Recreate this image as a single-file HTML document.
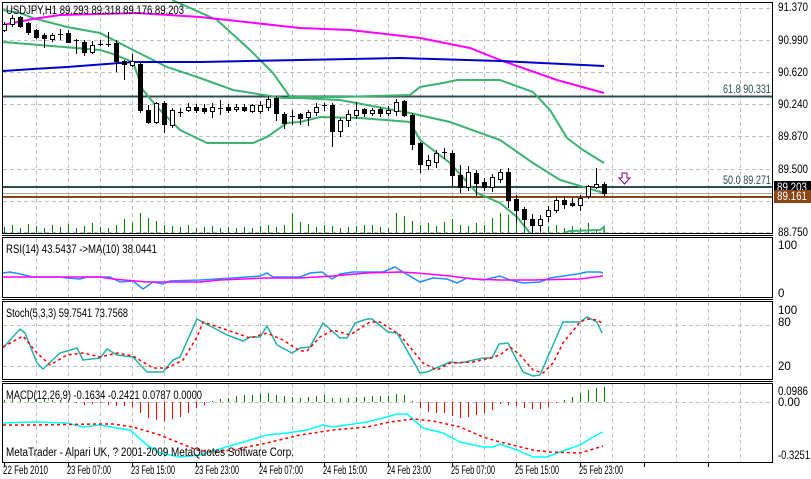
<!DOCTYPE html>
<html><head><meta charset="utf-8"><style>
html,body{margin:0;padding:0;background:#fff;}
svg{display:block;font-family:"Liberation Sans",sans-serif;font-size:11.5px;}
</style></head><body>
<svg id="s" width="811" height="479" xmlns="http://www.w3.org/2000/svg" shape-rendering="crispEdges">
<rect width="811" height="479" fill="#fff"/>
<g id="grid" stroke="#c0c0c0" stroke-dasharray="4,3" stroke-width="1"></g>
<g id="draw"></g>
<g fill="none" stroke="#000" stroke-width="1">
<rect x="2.5" y="2.5" width="770" height="231"/>
<line x1="2" y1="235.5" x2="773" y2="235.5"/>
<rect x="2.5" y="237.5" width="770" height="60"/>
<line x1="2" y1="299.5" x2="773" y2="299.5"/>
<rect x="2.5" y="301.5" width="770" height="78"/>
<line x1="2" y1="381.5" x2="773" y2="381.5"/>
<rect x="2.5" y="383.5" width="770" height="79"/>
</g>
<g id="ticks" stroke="#000"></g>
<g fill="#000">
<text x="778" y="11" textLength="30" lengthAdjust="spacingAndGlyphs">91.370</text>
<text x="778" y="44" textLength="30" lengthAdjust="spacingAndGlyphs">90.990</text>
<text x="778" y="76" textLength="30" lengthAdjust="spacingAndGlyphs">90.620</text>
<text x="778" y="108" textLength="30" lengthAdjust="spacingAndGlyphs">90.240</text>
<text x="778" y="140" textLength="30" lengthAdjust="spacingAndGlyphs">89.870</text>
<text x="778" y="173" textLength="30" lengthAdjust="spacingAndGlyphs">89.500</text>
<text x="778" y="236" textLength="30" lengthAdjust="spacingAndGlyphs">88.750</text>
<rect x="774" y="181" width="37" height="12" fill="#000"/>
<text x="777" y="191" fill="#fff" textLength="30" lengthAdjust="spacingAndGlyphs">89.203</text>
<rect x="774" y="190" width="37" height="13" fill="#8b4513"/>
<text x="777" y="200" fill="#fff" textLength="30" lengthAdjust="spacingAndGlyphs">89.161</text>
<text x="778" y="249">100</text>
<text x="778" y="297">0</text>
<text x="778" y="314">100</text>
<text x="778" y="326">80</text>
<text x="778" y="370">20</text>
<text x="778" y="395" textLength="30" lengthAdjust="spacingAndGlyphs">0.0986</text>
<text x="778" y="406" textLength="22" lengthAdjust="spacingAndGlyphs">0.00</text>
<text x="778" y="459" textLength="32" lengthAdjust="spacingAndGlyphs">-0.3251</text>
</g>
<g fill="#000">
<text x="6" y="14" textLength="178" lengthAdjust="spacingAndGlyphs">USDJPY,H1  89.293 89.318 89.176 89.203</text>
<text x="6" y="253" textLength="151" lengthAdjust="spacingAndGlyphs">RSI(14) 43.5437  -&gt;MA(10) 38.0441</text>
<text x="6" y="317" textLength="122" lengthAdjust="spacingAndGlyphs">Stoch(5,3,3) 59.7541 73.7568</text>
<text x="6" y="399" textLength="196" lengthAdjust="spacingAndGlyphs">MACD(12,26,9) -0.1634 -0.2421 0.0787 0.0000</text>
<text x="6" y="456" textLength="288" lengthAdjust="spacingAndGlyphs">MetaTrader - Alpari UK, ? 2001-2009 MetaQuotes Software Corp.</text>
<text x="723" y="93" fill="#2f4f4f" textLength="48" lengthAdjust="spacingAndGlyphs">61.8 90.331</text>
<text x="723" y="184" fill="#2f4f4f" textLength="48" lengthAdjust="spacingAndGlyphs">50.0 89.271</text>
</g>
<g fill="#000">
<text x="3" y="474" textLength="45" lengthAdjust="spacingAndGlyphs">22 Feb 2010</text>
<text x="67" y="474" textLength="44" lengthAdjust="spacingAndGlyphs">23 Feb 07:00</text>
<text x="131" y="474" textLength="44" lengthAdjust="spacingAndGlyphs">23 Feb 15:00</text>
<text x="195" y="474" textLength="44" lengthAdjust="spacingAndGlyphs">23 Feb 23:00</text>
<text x="259" y="474" textLength="44" lengthAdjust="spacingAndGlyphs">24 Feb 07:00</text>
<text x="323" y="474" textLength="44" lengthAdjust="spacingAndGlyphs">24 Feb 15:00</text>
<text x="387" y="474" textLength="44" lengthAdjust="spacingAndGlyphs">24 Feb 23:00</text>
<text x="451" y="474" textLength="44" lengthAdjust="spacingAndGlyphs">25 Feb 07:00</text>
<text x="515" y="474" textLength="44" lengthAdjust="spacingAndGlyphs">25 Feb 15:00</text>
<text x="579" y="474" textLength="44" lengthAdjust="spacingAndGlyphs">25 Feb 23:00</text>
</g>
<path d="M622 173h5v5h3l-5.5 6l-5.5-6h3z" fill="none" stroke="#800080" stroke-width="1" shape-rendering="auto"/>
</svg>
<script>
var NS="http://www.w3.org/2000/svg";
function el(p,t,a){var e=document.createElementNS(NS,t);for(var k in a)e.setAttribute(k,a[k]);p.appendChild(e);return e;}
var G=document.getElementById('grid'),D=document.getElementById('draw'),T=document.getElementById('ticks');
for(var x=36;x<772;x+=32){
 [[3,233],[238,297],[302,379],[384,462]].forEach(function(r){el(G,'line',{x1:x+.5,y1:r[0],x2:x+.5,y2:r[1]});});
}
for(var x=4;x<772;x+=64){el(T,'line',{x1:x+.5,y1:463,x2:x+.5,y2:467});}
[8,40,72,104,136,169,201,232].forEach(function(y){el(G,'line',{x1:3,y1:y+.5,x2:772,y2:y+.5});});
[325,366,402].forEach(function(y){el(G,'line',{x1:3,y1:y+.5,x2:772,y2:y+.5});});
el(D,'line',{x1:3,y1:96.5,x2:772,y2:96.5,stroke:'#2f4f4f','stroke-width':2});
el(D,'line',{x1:3,y1:187,x2:772,y2:187,stroke:'#2f4f4f','stroke-width':2});
el(D,'line',{x1:3,y1:193.5,x2:772,y2:193.5,stroke:'#a9a9a9'});
el(D,'line',{x1:3,y1:197,x2:772,y2:197,stroke:'#8b4513','stroke-width':2});
function pl(pts,c,w,dash){var a={points:pts.map(function(p){return p.join(',')}).join(' '),fill:'none',stroke:c,'stroke-width':w||2,'shape-rendering':'auto'};if(dash)a['stroke-dasharray']=dash;el(D,'polyline',a);}
var vh=[6,8,5,9,7,5,8,6,9,5,7,10,6,5,8,14,10,20,15,12,8,7,6,8,5,6,7,5,6,5,6,5,7,8,6,8,20,11,9,6,8,7,5,6,7,8,8,6,5,20,17,12,8,10,7,11,14,8,7,10,8,15,20,18,10,8,6,4,7,8,5,7,5,10,3];
var C=[[24,30,22,31,0],[18,24,15,26,0],[17,26,16,27,1],[23,32,22,34,1],[30,37,29,38,1],[35,38,33,47,1],[35,39,33,41,0],[34,35,29,39,0],[33,42,30,42,1],[40,41,39,53,1],[42,52,40,55,1],[45,52,41,53,0],[44,45,40,45,0],[44,45,32,46,0],[43,61,40,71,1],[61,64,60,79,1],[61,65,54,66,0],[64,110,62,112,1],[110,122,105,123,1],[103,122,102,123,0],[103,124,101,132,1],[110,125,108,127,0],[112,113,108,116,0],[107,110,103,111,0],[107,110,104,112,1],[108,111,104,113,1],[107,111,103,117,0],[108,109,100,114,0],[107,110,104,112,1],[107,109,104,111,0],[107,110,104,111,1],[105,111,104,112,0],[105,111,101,113,0],[99,107,96,110,0],[98,113,96,120,1],[114,123,112,128,1],[116,117,110,124,0],[114,118,113,124,1],[112,117,110,125,0],[107,112,103,115,0],[105,106,103,110,0],[105,131,103,146,1],[120,131,118,136,0],[114,120,110,126,0],[110,115,102,118,0],[109,113,108,116,1],[110,113,108,115,0],[109,113,107,116,1],[110,113,106,115,0],[102,111,99,115,0],[101,115,100,116,1],[115,144,113,149,1],[143,164,142,172,1],[160,165,155,169,0],[153,162,150,167,0],[152,153,148,158,0],[153,175,150,185,1],[175,187,165,192,1],[172,187,166,190,0],[173,183,170,195,1],[182,187,178,190,1],[177,187,174,191,0],[172,179,169,182,0],[172,200,168,207,1],[199,210,195,222,1],[209,219,207,226,1],[219,225,214,233,1],[219,225,215,230,0],[210,216,206,221,0],[200,210,196,212,0],[200,204,196,208,1],[203,205,198,206,1],[198,205,195,210,0],[186,196,185,198,0],[184,187,168,188,0],[184,193,182,195,1]];
var n=C.length;
for(var i=0;i<n;i++){var cx=4+8*i;var h=vh[i%vh.length];el(D,'line',{x1:cx+.5,y1:233,x2:cx+.5,y2:233-h,stroke:'#008000'});}
pl([[3,10],[20,13],[33,18],[67,27],[100,33],[133,50],[167,67],[200,78],[233,90],[283,98],[300,98],[340,100],[410,113],[450,122],[500,140],[533,163],[560,180],[604,193]],'#3cb371');
pl([[3,42],[100,50],[110,53],[133,62],[143,90],[157,107],[180,130],[207,143],[253,143],[267,137],[287,123],[300,122],[320,117],[360,118],[410,122],[420,140],[450,163],[477,193],[500,203],[517,217],[530,233]],'#3cb371');
pl([[563,233],[570,231],[600,230],[604,227],[604,233]],'#3cb371');
pl([[172,0],[217,20],[250,50],[273,73],[290,97],[340,97],[410,95],[420,87],[443,83],[457,80],[500,80],[533,92],[550,110],[567,138],[583,150],[604,163]],'#3cb371');
pl([[3,25],[33,19],[60,15],[137,13],[200,17],[300,28],[350,30],[420,38],[470,48],[500,60],[557,80],[604,93]],'#ff00ff');
pl([[3,71],[33,69],[67,67],[133,62],[200,62],[300,60],[400,58],[500,61],[604,66]],'#0000cd');
for(var i=0;i<n;i++){var c=C[i],cx=4+8*i;
 el(D,'line',{x1:cx+.5,y1:c[2],x2:cx+.5,y2:c[3]+1,stroke:'#000'});
 var hgt=Math.max(1,c[1]-c[0]);
 if(hgt<=1){el(D,'line',{x1:cx-2,y1:c[0]+.5,x2:cx+3,y2:c[0]+.5,stroke:'#000'});}
 else el(D,'rect',{x:cx-2+.5,y:c[0]+.5,width:4,height:hgt,fill:c[4]?'#000':'#fff',stroke:'#000'});
}
pl([[3,273],[10,272],[20,274],[33,277],[60,277],[67,278],[80,279],[87,277],[110,277],[120,282],[133,281],[143,289],[153,282],[163,284],[170,281],[200,280],[233,278],[260,276],[267,273],[273,277],[300,277],[310,273],[322,272],[332,279],[340,274],[353,272],[383,272],[395,267],[403,272],[420,282],[433,278],[447,279],[457,283],[467,278],[483,280],[500,276],[510,280],[523,283],[540,282],[550,278],[577,274],[587,272],[600,272],[603,273]],'#1e90ff',1.5);
pl([[3,277],[100,277],[113,279],[147,282],[200,282],[220,280],[267,278],[300,278],[333,276],[367,273],[400,272],[417,273],[450,276],[473,279],[500,280],[533,280],[580,279],[603,276]],'#ff00ff',1.5);
pl([[3,348],[20,329],[25,333],[37,363],[43,369],[60,353],[77,348],[83,360],[100,358],[107,349],[117,355],[133,357],[147,372],[163,372],[173,360],[180,357],[197,319],[227,335],[243,341],[250,337],[260,337],[267,326],[277,345],[292,353],[300,348],[310,347],[323,323],[340,338],[347,338],[355,323],[367,319],[372,319],[388,332],[397,333],[420,373],[427,372],[450,362],[460,363],[483,358],[492,358],[499,344],[508,343],[523,372],[533,376],[540,375],[563,322],[580,322],[587,317],[597,322],[602,333]],'#20b2aa',1.5);
pl([[3,347],[23,336],[37,353],[50,365],[67,355],[83,353],[100,357],[117,353],[133,356],[153,368],[167,368],[183,360],[197,337],[203,322],[227,330],[250,338],[267,333],[283,340],[300,351],[307,351],[320,337],[333,330],[350,335],[370,322],[380,322],[400,335],[423,363],[437,370],[450,363],[473,362],[490,358],[500,355],[510,347],[520,355],[533,370],[543,373],[553,363],[563,343],[580,322],[587,319],[597,320],[602,323]],'#ff0000',1.5,'3,3');
var cy=[[3,423],[33,422],[67,423],[83,427],[100,425],[117,428],[130,430],[147,445],[160,453],[180,457],[200,455],[233,445],[267,435],[287,433],[307,430],[323,425],[333,427],[367,422],[387,417],[397,414],[407,414],[423,428],[443,433],[460,442],[483,447],[493,447],[500,444],[517,450],[533,457],[547,457],[560,452],[580,445],[593,437],[603,432]];
var rd=[[3,425],[33,425],[100,424],[113,424],[133,427],[160,435],[177,442],[197,450],[213,452],[233,450],[267,443],[300,435],[333,430],[367,427],[390,422],[413,419],[433,421],[460,427],[483,437],[500,442],[533,450],[550,452],[580,453],[600,447],[603,446]];
function interp(a,x){for(var i=1;i<a.length;i++){if(x<=a[i][0]){var p=a[i-1],q=a[i];return p[1]+(q[1]-p[1])*(x-p[0])/(q[0]-p[0]);}}return a[a.length-1][1];}
for(var i=0;i<n;i++){var cx=4+8*i;var d=interp(rd,cx)-interp(cy,cx);var h=Math.round(d*1.1);
 if(Math.abs(h)<1)h=h<0?-1:1;
 el(D,'line',{x1:cx+.5,y1:402,x2:cx+.5,y2:402-h,stroke:h>0?'#008000':'#ff0000'});}
pl(cy,'#00ffff',1.5);
pl(rd,'#ff0000',1.5,'3,3');
</script>
</body></html>
